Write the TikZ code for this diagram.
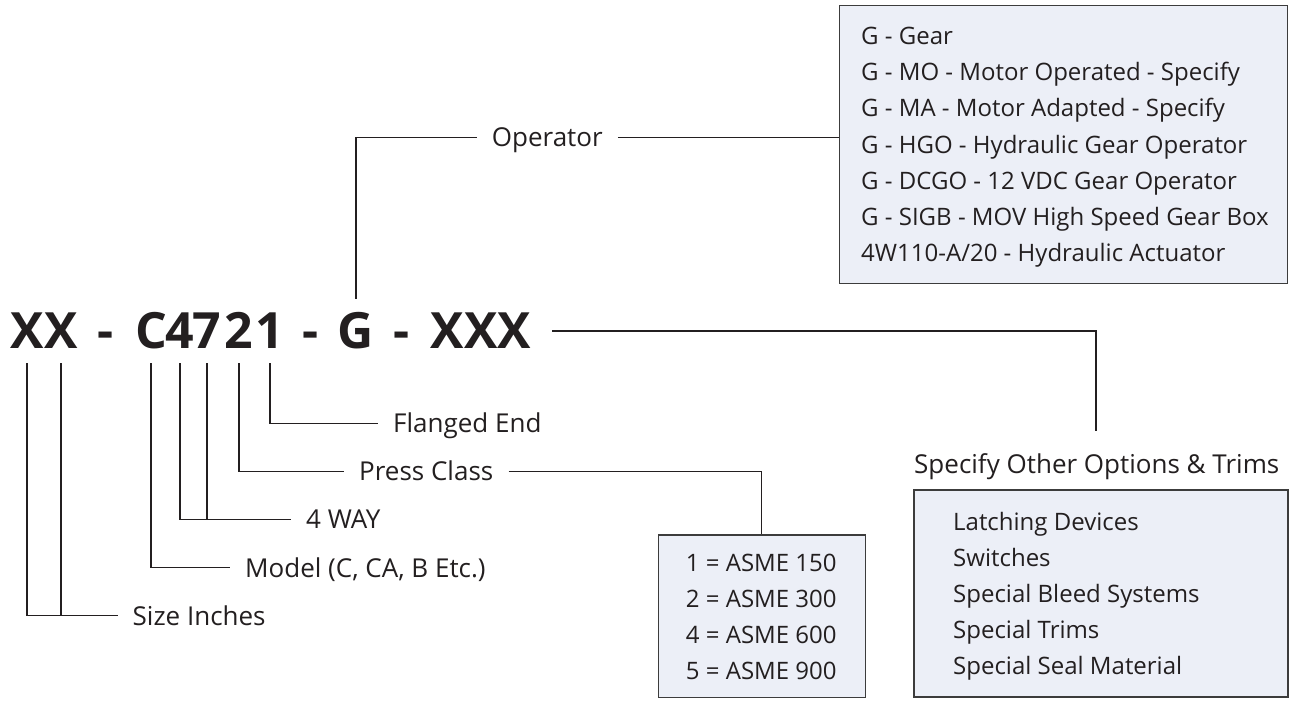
\documentclass[tikz,border=0pt]{standalone}
\usepackage{fontspec}
\setmainfont{Open Sans}
\definecolor{ink}{HTML}{231F20}
\definecolor{boxfill}{HTML}{ECEFF7}
\definecolor{boxline}{HTML}{3C3C3C}
\begin{document}
\begin{tikzpicture}[x=1pt,y=-1pt,
  code/.style={font=\fontsize{50}{60}\selectfont\bfseries, text=ink, inner xsep=0pt, inner ysep=14pt, text height=35.7pt, text depth=0pt},
  lbl/.style={font=\fontsize{26}{30}\selectfont, text=ink, text height=18.6pt, text depth=0pt, inner xsep=15pt, inner ysep=0pt, anchor=west},
  conn/.style={draw=ink, line width=1.2pt},
  listbox/.style={draw=boxline, fill=boxfill, line width=1.5pt, inner sep=0pt},
  item/.style={font=\fontsize{24}{30}\selectfont, text=ink, inner sep=0pt, anchor=base west},
]
\useasboundingbox (0,0) rectangle (1294,703);
\fill[white] (0,0) rectangle (1294,703);

% part code
\node[code] (x1) at (27,331) {X};
\node[code] (x2) at (61,331) {X};
\node[code] (d1) at (106,331) {-};
\node[code] (c)  at (151,331) {C};
\node[code] (n4) at (180,331) {4};
\node[code] (n7) at (207,331) {7};
\node[code] (n2) at (239,331) {2};
\node[code] (n1) at (270,331) {1};
\node[code] (d2) at (311,331) {-};
\node[code] (g)  at (356,331) {G};
\node[code] (d3) at (402,331) {-};
\node[code, inner xsep=21pt] (xxx) at (481,331) {XXX};

% labels
\node[lbl] (size)     at (117.5,615.7) {Size Inches};
\node[lbl] (model)    at (230,567.7)   {Model (C, CA, B Etc.)};
\node[lbl] (way)      at (291,519.3)   {4 WAY};
\node[lbl] (press)    at (344,471.3)   {Press Class};
\node[lbl] (flanged)  at (378,423.3)   {Flanged End};
\node[lbl] (operator) at (476.7,137.3) {Operator};

% boxes
\node[listbox, minimum width=448pt, minimum height=277.6pt] (opbox) at (1063.3,144.5) {};
\node[listbox, minimum width=207pt, minimum height=162.7pt] (asme) at (761.8,616.35) {};
\node[listbox, minimum width=374pt, minimum height=207pt] (trims) at (1101,593.5) {};

\node[font=\fontsize{26}{30}\selectfont, text=ink, inner sep=0pt, anchor=base west] (spec) at (914,473.3) {Specify Other Options \& Trims};
\coordinate (spectop) at (1096,430.7);

\foreach \t [count=\i] in {G - Gear, G - MO - Motor Operated - Specify, G - MA - Motor Adapted - Specify, G - HGO - Hydraulic Gear Operator, G - DCGO - 12 VDC Gear Operator, G - SIGB - MOV High Speed Gear Box, 4W110-A/20 - Hydraulic Actuator}
  \node[item] (op\i) at (861,{44.5+36.2*(\i-1)}) {\t};

\foreach \t [count=\i] in {1 = ASME 150, 2 = ASME 300, 4 = ASME 600, 5 = ASME 900}
  \node[item] (as\i) at (685.7,{571+36.2*(\i-1)}) {\t};

\foreach \t [count=\i] in {Latching Devices, Switches, Special Bleed Systems, Special Trims, Special Seal Material}
  \node[item] (tr\i) at (953,{530+36.2*(\i-1)}) {\t};

% connectors
\draw[conn] (x1.south) |- (size.west);
\draw[conn] (x2.south) -- (x2.south |- size.west);
\draw[conn] (c.south) |- (model.west);
\draw[conn] (n4.south) |- (way.west);
\draw[conn] (n7.south) -- (n7.south |- way.west);
\draw[conn] (n2.south) |- (press.west);
\draw[conn] (n1.south) |- (flanged.west);
\draw[conn] (press.east) -| (asme.north);
\draw[conn] (g.north) |- (operator.west);
\draw[conn] (operator.east) -- (operator.east -| opbox.west);
\draw[conn] (xxx.east) -| (spectop);
\end{tikzpicture}
\end{document}
